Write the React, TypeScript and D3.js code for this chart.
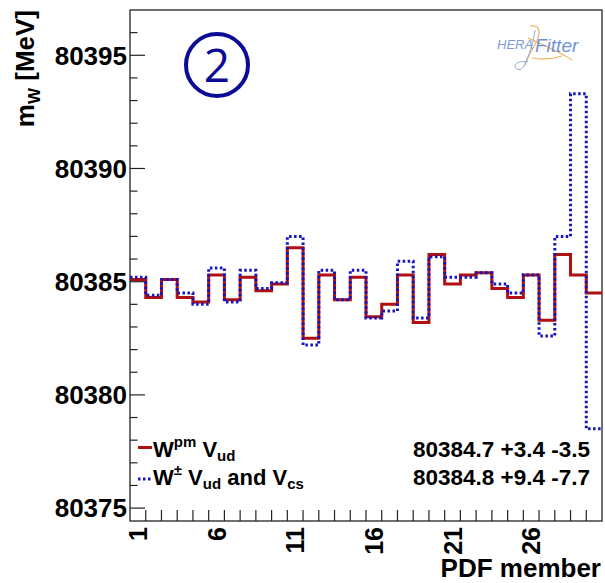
import * as d3 from "d3";
import { useEffect, useRef } from "react";

// PDF member index 1..30
const members = d3.range(1, 31);
// m_W [MeV] for each PDF member
const wpmVud = [
  80385.1, 80384.3, 80385.1, 80384.3, 80384.1, 80385.3, 80384.2, 80385.2, 80384.6, 80384.9,
  80386.5, 80382.5, 80385.3, 80384.2, 80385.2, 80383.45, 80384.0, 80385.3, 80383.2, 80386.2,
  80384.9, 80385.3, 80385.4, 80384.7, 80384.3, 80385.3, 80383.3, 80386.2, 80385.3, 80384.5,
];
const wpmVudVcs = [
  80385.2, 80384.4, 80385.1, 80384.5, 80384.0, 80385.6, 80384.1, 80385.5, 80384.7, 80384.95,
  80387.0, 80382.2, 80385.5, 80384.2, 80385.5, 80383.4, 80383.7, 80385.9, 80383.4, 80386.1,
  80385.2, 80385.2, 80385.4, 80384.9, 80384.5, 80385.3, 80382.6, 80387.0, 80393.3, 80378.5,
];
const yMajorTicks = [80375, 80380, 80385, 80390, 80395];
const xTickLabels = [1, 6, 11, 16, 21, 26];
const summary = ["80384.7 +3.4 -3.5", "80384.8 +9.4 -7.7"];

const W = 605;
const H = 583;
const FONT = "'Liberation Sans', Arial, Helvetica, sans-serif";

const App = () => {
  const ref = useRef<SVGSVGElement | null>(null);

  useEffect(() => {
    const svg = d3.select(ref.current);
    svg.selectAll("*").remove();

    const left = 130, right = 602, top = 10, bottom = 521;
    const x = d3.scaleLinear().domain([0, members.length]).range([left, right]);
    const y = d3.scaleLinear().domain([80374.43, 80397]).range([bottom, top]);

    // frame
    svg.append("rect")
      .attr("x", left).attr("y", top)
      .attr("width", right - left).attr("height", bottom - top)
      .attr("fill", "none").attr("stroke", "#222").attr("stroke-width", 1.3);

    // y ticks (major + minor), inside the frame
    const minor = d3.range(80375, 80397, 1);
    svg.append("g").selectAll("line").data(minor).join("line")
      .attr("x1", left).attr("x2", (d) => left + (d % 5 === 0 ? 15 : 7.5))
      .attr("y1", (d) => y(d)).attr("y2", (d) => y(d))
      .attr("stroke", "#222").attr("stroke-width", 1.2);

    svg.append("g").selectAll("text").data(yMajorTicks).join("text")
      .attr("x", 127).attr("y", (d) => y(d))
      .attr("dy", "0.36em")
      .attr("text-anchor", "end")
      .attr("font-family", FONT).attr("font-weight", "bold").attr("font-size", 26)
      .text((d) => d);

    // x ticks at bin edges
    svg.append("g").selectAll("line").data(d3.range(1, members.length)).join("line")
      .attr("x1", (d) => x(d)).attr("x2", (d) => x(d))
      .attr("y1", bottom).attr("y2", bottom - 11)
      .attr("stroke", "#222").attr("stroke-width", 1.2);

    svg.append("g").selectAll("text").data(xTickLabels).join("text")
      .attr("transform", (d) => `translate(${x(d - 0.5)},527) rotate(-90)`)
      .attr("dy", "0.36em")
      .attr("text-anchor", "end")
      .attr("font-family", FONT).attr("font-weight", "bold").attr("font-size", 25)
      .text((d) => d);

    // axis titles
    svg.append("text")
      .attr("x", 601).attr("y", 577)
      .attr("text-anchor", "end")
      .attr("font-family", FONT).attr("font-weight", "bold").attr("font-size", 26)
      .text("PDF member");

    const yt = svg.append("text")
      .attr("transform", "translate(34,10) rotate(-90)")
      .attr("text-anchor", "end")
      .attr("font-family", FONT).attr("font-weight", "bold").attr("font-size", 26);
    yt.append("tspan").text("m");
    yt.append("tspan").attr("font-size", 17).attr("dy", 6).text("W");
    yt.append("tspan").attr("dy", -6).text(" [MeV]");

    // histograms as step lines
    const step = (vals: number[]) =>
      d3.line<number>()
        .x((_, i) => x(i))
        .y((d) => y(d))
        .curve(d3.curveStepAfter)([...vals, vals[vals.length - 1]]);

    svg.append("path")
      .attr("d", step(wpmVud))
      .attr("fill", "none").attr("stroke", "#b01010").attr("stroke-width", 3);

    svg.append("path")
      .attr("d", step(wpmVudVcs))
      .attr("fill", "none").attr("stroke", "#1515c0").attr("stroke-width", 3)
      .attr("stroke-dasharray", "2.5 2.5");

    // legend
    svg.append("line").attr("x1", 138).attr("x2", 152).attr("y1", 447.5).attr("y2", 447.5)
      .attr("stroke", "#b01010").attr("stroke-width", 3);
    svg.append("line").attr("x1", 138).attr("x2", 152).attr("y1", 479).attr("y2", 479)
      .attr("stroke", "#1515c0").attr("stroke-width", 3).attr("stroke-dasharray", "2.5 2.5");

    const l1 = svg.append("text").attr("x", 153).attr("y", 456.5)
      .attr("font-family", FONT).attr("font-weight", "bold").attr("font-size", 22);
    l1.append("tspan").text("W");
    l1.append("tspan").attr("font-size", 15).attr("dy", -10).text("pm");
    l1.append("tspan").attr("dy", 10).text(" V");
    l1.append("tspan").attr("font-size", 15).attr("dy", 4).text("ud");

    const l2 = svg.append("text").attr("x", 153).attr("y", 485)
      .attr("font-family", FONT).attr("font-weight", "bold").attr("font-size", 22);
    l2.append("tspan").text("W");
    l2.append("tspan").attr("font-size", 15).attr("dy", -10).text("±");
    l2.append("tspan").attr("dy", 10).text(" V");
    l2.append("tspan").attr("font-size", 15).attr("dy", 4).text("ud");
    l2.append("tspan").attr("dy", -4).text(" and V");
    l2.append("tspan").attr("font-size", 15).attr("dy", 4).text("cs");

    svg.append("g").selectAll("text").data(summary).join("text")
      .attr("x", 413).attr("y", (_, i) => 456.5 + i * 28.5)
      .attr("font-family", FONT).attr("font-weight", "bold").attr("font-size", 22.5)
      .text((d) => d);

    // circled "2"
    svg.append("circle").attr("cx", 217).attr("cy", 65).attr("r", 31)
      .attr("fill", "none").attr("stroke", "#0b0b96").attr("stroke-width", 4);
    svg.append("text").attr("x", 217).attr("y", 65).attr("dy", "0.36em")
      .attr("text-anchor", "middle")
      .attr("font-family", "'Open Sans', 'DejaVu Sans', sans-serif").attr("font-size", 46)
      .attr("fill", "#0b0b96")
      .text("2");

    // HERAFitter logo (rough)
    const logo = svg.append("g");
    logo.append("path")
      .attr("d", "M530,26 C545,24 538,40 533,48 C528,56 526,62 524,66 M528,38 C545,46 560,52 572,60 M532,58 C545,60 556,58 562,56")
      .attr("fill", "none").attr("stroke", "#f0b060").attr("stroke-width", 1.2);
    logo.append("path")
      .attr("d", "M535,30 C534,40 530,52 527,60 C524,68 520,72 516,68 C512,64 520,60 528,62")
      .attr("fill", "none").attr("stroke", "#8aa8dc").attr("stroke-width", 1);
    logo.append("text").attr("x", 497).attr("y", 49)
      .attr("font-family", FONT).attr("font-style", "italic").attr("font-size", 13)
      .attr("fill", "#7b9ad6").text("HERA");
    logo.append("text").attr("x", 535).attr("y", 52)
      .attr("font-family", FONT).attr("font-style", "italic").attr("font-size", 19)
      .attr("fill", "#6f92d4").text("Fitter");
  }, []);

  return (
    <div style={{ position: "absolute", left: 0, top: 0 }}>
      <svg ref={ref} width={W} height={H} style={{ display: "block", background: "#fff" }} />
    </div>
  );
};

export default App;
